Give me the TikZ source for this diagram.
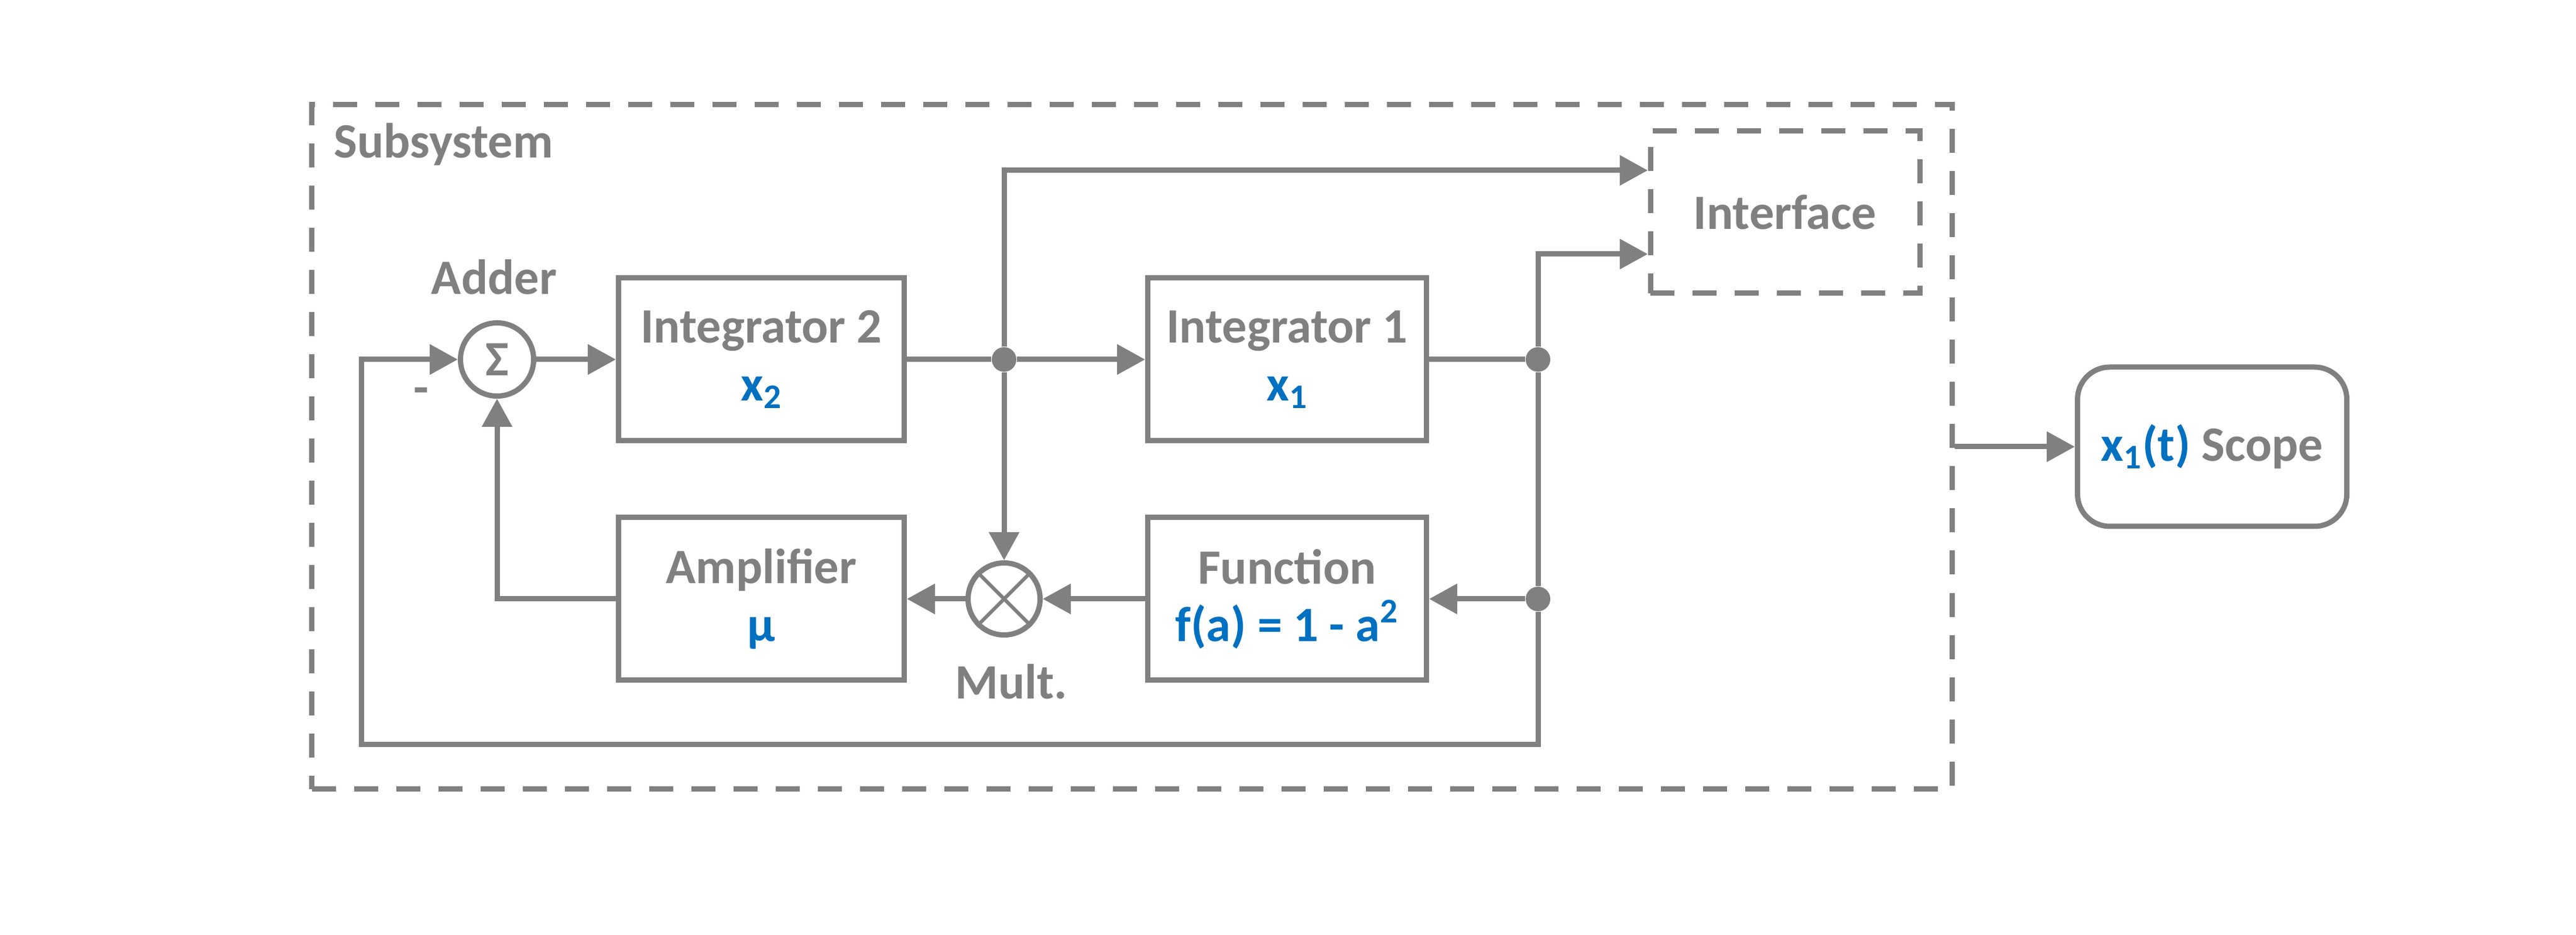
\documentclass[tikz,border=0pt]{standalone}
\usepackage{fontspec}
\setmainfont{Carlito}
\usetikzlibrary{positioning, calc, arrows.meta}
\definecolor{linegray}{RGB}{128,128,128}
\definecolor{varblue}{RGB}{0,112,192}
\tikzset{
  wire/.style={draw=linegray, line width=0.9mm},
  flow/.style={wire, -{Triangle[length=4.8mm, width=5mm]}},
  block/.style={draw=linegray, line width=0.9mm, minimum width=4.88cm, minimum height=2.78cm, align=center},
  summer/.style={circle, draw=linegray, line width=0.9mm, minimum size=1.25cm},
  junction/.style={circle, fill=linegray, minimum size=0.42cm},
  dashbox/.style={block, dash pattern=on 4.1mm off 3.1mm, minimum width=4.6cm, minimum height=2.77cm},
  scopebox/.style={block, rounded corners=5.5mm, minimum width=4.6cm, minimum height=2.72cm},
  >=Latex, node distance=1, every node/.style={inner sep=0, text=linegray, font=\fontsize{24}{28}\selectfont\bfseries}
}

\begin{document}
\begin{tikzpicture}
  \useasboundingbox (0,0) rectangle (44,15.96);
  \node[summer] (adder) at (8.49,9.82) {Σ};
  \node[above=0.43 of adder, xshift=-0.05cm] (adderlabel) {Adder};
  \node (minus) at (7.19,9.2) {-};
  \node[block, right=1.36 of adder] (int2) {Integrator 2\\\textcolor{varblue}{x\textsubscript{2}}};
  \node[junction] (jint2) at (17.15,9.82) {};
  \node[block, minimum width=4.76cm, right=4.07 of int2] (int1) {Integrator 1\\\textcolor{varblue}{x\textsubscript{1}}};
  \node[junction] (jint1) at (26.27,9.82) {};
  \node[block, below=1.22 of int2] (amp) {Amplifier\\\textcolor{varblue}{μ}};
  \node[block, minimum width=4.76cm, below=1.22 of int1] (func) {Function\\\textcolor{varblue}{f(a) = 1 - a\textsuperscript{2}}};
  \node[summer, minimum size=1.23cm] (mult) at (jint2 |- amp) {};
  \draw[wire, line width=0.6mm] (mult.north west) -- (mult.south east) (mult.north east) -- (mult.south west);
  \node[below=0.45 of mult, xshift=0.12cm] (multlabel) {Mult.};
  \node[junction] (jfun) at (jint1 |- func) {};
  \node[dashbox] (iface) at (30.49,12.335) {Interface};
  \node[dashbox, minimum width=28.02cm, minimum height=11.69cm] (subsys) at (19.335,8.33) {};
  \node[anchor=base west] (subsyslabel) at ($(subsys.north west)+(0.42,-0.96)$) {Subsystem};
  \node[scopebox, right=2.05 of subsys] (scope) {\textcolor{varblue}{x\textsubscript{1}(t)} Scope};
  \coordinate (loopleft) at (6.17,3.25);
  % forward path
  \draw[flow] (adder) -- (int2);
  \draw[wire] (int2) -- (jint2);
  \draw[flow] (jint2) -- (int1);
  \draw[flow] (jint2) |- ($(iface.north west)!0.25!(iface.south west)$);
  \draw[wire] (int1) -- (jint1);
  \draw[flow] (jint1) |- ($(iface.north west)!0.75!(iface.south west)$);
  % feedback
  \draw[wire] (jint1) -- (jfun);
  \draw[flow] (jfun) -- (func);
  \draw[flow] (func) -- (mult);
  \draw[flow] (jint2) -- (mult);
  \draw[flow] (mult) -- (amp);
  \draw[flow] (amp) -| (adder);
  \draw[flow] (jfun) |- (loopleft) |- (adder);
  \draw[flow] (subsys) -- (scope);
\end{tikzpicture}
\end{document}
